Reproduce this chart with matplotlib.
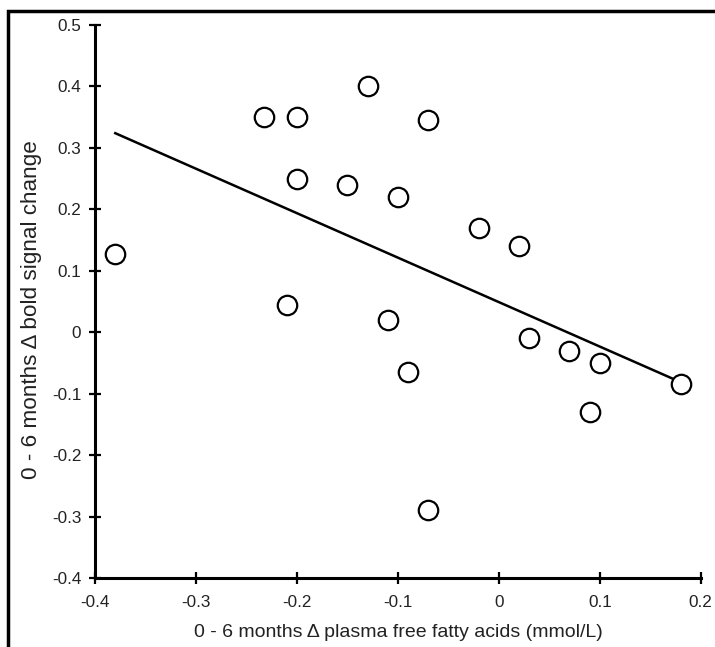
import matplotlib.pyplot as plt
import numpy as np
from matplotlib.patches import Rectangle

# 0 - 6 month changes, one point per subject
ffa_change = [-0.38, -0.233, -0.20, -0.13, -0.07, -0.20, -0.15, -0.10, -0.02,
              0.02, -0.21, -0.11, -0.09, 0.03, 0.07, 0.10, 0.09, 0.18, -0.07]
bold_change = [0.127, 0.35, 0.35, 0.40, 0.345, 0.25, 0.24, 0.22, 0.17,
               0.14, 0.045, 0.02, -0.065, -0.01, -0.03, -0.05, -0.13, -0.085, -0.29]

x_ticks = [-0.4, -0.3, -0.2, -0.1, 0, 0.1, 0.2]
x_tick_labels = ["-0.4", "-0.3", "-0.2", "-0.1", "0", "0.1", "0.2"]
y_ticks = [-0.4, -0.3, -0.2, -0.1, 0, 0.1, 0.2, 0.3, 0.4, 0.5]
y_tick_labels = ["-0.4", "-0.3", "-0.2", "-0.1", "0", "0.1", "0.2", "0.3", "0.4", "0.5"]


def main():
    plt.rcParams["font.family"] = ["Liberation Sans", "DejaVu Sans"]
    fig = plt.figure(figsize=(7.15, 6.47), dpi=100)
    ax = fig.add_axes([0.133, 0.1066, 0.847, 0.8548])

    x = np.array(ffa_change)
    y = np.array(bold_change)
    # least squares trend line over the range of the data
    slope, intercept = np.polyfit(x, y, 1)
    xs = np.array([x.min(), x.max()])
    ax.plot(xs, slope * xs + intercept, color="black", lw=1.8, zorder=2)

    ax.plot(x, y, "o", ms=14, mfc="white", mec="black", mew=1.6, zorder=3,
            clip_on=False)

    ax.set_xlim(-0.4, 0.2)
    ax.set_ylim(-0.4, 0.5)
    ax.set_xticks(x_ticks, x_tick_labels)
    ax.set_yticks(y_ticks, y_tick_labels)
    for side in ["top", "right"]:
        ax.spines[side].set_visible(False)
    for side in ["left", "bottom"]:
        ax.spines[side].set_linewidth(2.2)
    ax.tick_params(direction="inout", length=8, width=1.6, labelsize=12.3,
                   colors="black", labelcolor="#222222")
    ax.tick_params(axis="y", pad=6)
    ax.tick_params(axis="x", pad=8)

    ax.set_xlabel("0 - 6 months \u0394 plasma free fatty acids (mmol/L)",
                  fontsize=14, color="#222222", labelpad=10)
    ax.set_ylabel("0 - 6 months \u0394 bold signal change",
                  fontsize=16.2, color="#222222", labelpad=7)
    ax.yaxis.label.set_y(0.486)

    # outer frame around the figure
    fig.patches.append(Rectangle((0.0112, -0.1), 1.2, 1.083, transform=fig.transFigure,
                                 fill=False, edgecolor="black", lw=2.5))

    fig.savefig("out.png", dpi=100)


if __name__ == "__main__":
    main()
